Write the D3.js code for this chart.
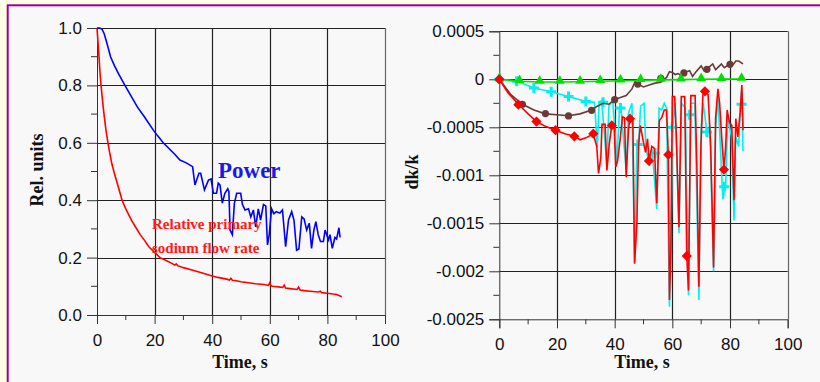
<!DOCTYPE html>
<html>
<head>
<meta charset="utf-8">
<script src="https://cdn.jsdelivr.net/npm/d3@7"></script>
<style>
  html, body { margin: 0; padding: 0; background: #ffffe6; }
  svg { display: block; }
  .tick text { font-family: "Liberation Sans", Arial, sans-serif; font-size: 17px; fill: #111; }
  .ttl { font-family: "Liberation Serif", "Times New Roman", serif; font-weight: bold; }
</style>
</head>
<body>
<script>
// ---- left chart data: relative units vs time ----
let flowT = [0,0.35,0.7,1.0,1.4,1.8,2.2,2.6,3.1,3.8,4.5,5.2,6,7,8,8.7,10,11,12,13.5,15,16.5,18,20,21.9,24,26,27,27.5,28,30,33,36,40,42,45,46,46.5,47,48,50,52,55,58,59.5,60,60.5,61,63,64.5,65,65.5,67,69.5,70,70.5,72,74,76,77,77.5,78,80,82,83,84,85];
let flowV = [1.0,0.95,0.9,0.85,0.8,0.76,0.72,0.685,0.645,0.6,0.56,0.525,0.495,0.46,0.425,0.4,0.37,0.35,0.33,0.305,0.28,0.26,0.238,0.218,0.2,0.19,0.18,0.174,0.178,0.172,0.165,0.157,0.148,0.136,0.131,0.125,0.122,0.128,0.121,0.12,0.116,0.113,0.109,0.106,0.103,0.112,0.101,0.1,0.098,0.096,0.104,0.094,0.092,0.089,0.097,0.087,0.085,0.083,0.081,0.08,0.083,0.078,0.076,0.073,0.072,0.068,0.064];

let powerT = [0,1,1.8,2.5,3.5,4.7,6,7.5,9.7,12,14,16.5,19.5,21,23,25,27,28.8,31,33.2,34,35.4,36,37.3,38.7,39.6,40.4,41.5,42.1,42.7,43.5,44.4,45.4,45.8,46.2,47,47.7,48.5,49.9,50.5,51.4,52.6,53.4,54.3,55.1,56,56.8,57.8,58.6,59.2,59.8,60.6,61.4,62.3,63.5,64.4,65.5,66.5,67.6,68.4,69.3,70.1,71.1,71.9,72.8,73.7,74.5,75.3,76,76.8,77.6,78.6,79.2,80.4,80.9,81.7,82.6,83.2,84,84.4];
let powerV = [1.0,1.0,0.995,0.98,0.945,0.9,0.87,0.84,0.8,0.76,0.725,0.69,0.645,0.625,0.6,0.58,0.56,0.54,0.53,0.517,0.453,0.494,0.494,0.436,0.47,0.474,0.424,0.424,0.459,0.453,0.39,0.424,0.44,0.43,0.296,0.28,0.389,0.424,0.424,0.385,0.366,0.37,0.342,0.366,0.307,0.37,0.331,0.385,0.38,0.244,0.28,0.37,0.353,0.36,0.355,0.366,0.238,0.331,0.36,0.33,0.226,0.23,0.342,0.335,0.296,0.32,0.232,0.296,0.325,0.28,0.256,0.256,0.296,0.262,0.28,0.232,0.27,0.265,0.304,0.27];

let leftXTicks = [0, 20, 40, 60, 80, 100];
let leftYTicks = [0, 0.2, 0.4, 0.6, 0.8, 1.0];
let leftYLabels = ["0.0", "0.2", "0.4", "0.6", "0.8", "1.0"];

// ---- right chart data: dk/k vs time ----
let redT = [0,3,6.6,10,12.9,16,19.5,23,26,28,30,32.6,33.8,34.4,35.2,35.6,36.7,37.3,38.1,39,39.8,40.4,41,41.9,42.7,43.4,44,44.8,45.3,46.3,46.9,47.7,48.3,48.9,50,50.7,51.4,51.9,52.9,53.8,54.6,55.5,56.3,57.2,58,58.6,59,59.5,60,60.8,61.4,62.3,63.1,64.3,65,65.6,66.4,67.9,68.5,69.2,69.9,70.6,71.3,72.4,73.3,74.3,75,75.8,76.4,77.1,77.9,78.5,79,79.8,80.6,81.4,82,82.7,83.5,84.1,84.5];
let redV = [0,-0.00014,-0.00026,-0.00036,-0.00044,-0.00049,-0.00053,-0.00057,-0.00059,-0.00063,-0.00061,-0.00057,-0.0007,-0.00098,-0.00082,-0.00047,-0.00047,-0.00095,-0.00068,-0.00048,-0.00048,-0.00091,-0.00085,-0.00063,-0.00039,-0.0004,-0.00102,-0.00052,-0.00041,-0.00041,-0.00192,-0.0015,-0.00068,-0.00048,-0.00066,-0.00076,-0.00062,-0.00085,-0.0007,-0.00072,-0.00129,-0.00043,-0.0004,-0.00032,-0.00032,-0.00079,-0.0023,-0.0018,-0.00018,-0.00018,-0.0006,-0.00154,-0.00018,-0.00018,-0.00184,-0.0022,-0.00017,-0.00017,-0.0009,-0.00216,-0.0007,-0.00016,-0.00013,-0.00016,-0.0007,-0.00196,-0.0004,-0.0001,-0.00025,-0.0006,-0.00094,-0.0007,-0.00032,-0.00045,-0.00048,-0.00126,-0.00041,-0.0006,-0.00035,-0.00006,-0.00053];
let redMkT = [0,6.6,12.9,19.5,26,32.6,39,45.3,51.9,58.6,65,71.3,77.9];
let redMkV = [0,-0.000264,-0.00044,-0.00053,-0.000594,-0.000566,-0.00048,-0.00041,-0.00085,-0.000785,-0.00184,-0.000125,-0.00094];

let cyanT = [0,6.2,12,18,24,30,33,34,34.6,35.5,36.5,37.3,38,39.3,40,40.8,41.7,42.2,43,44,44.8,46,46.9,47.7,48.3,49,50.2,50.8,52,53,54.6,55.4,56.3,57.2,58,59,59.6,60.2,61,62.3,63.2,64.5,65.6,66.4,67.8,69.2,70,70.7,72,73,74.3,75,75.8,76.5,77.5,78.5,79.2,80.5,81.4,82,83,83.6,84.1,84.5];
let cyanV = [0,-0.00002,-0.00009,-0.00013,-0.00018,-0.00023,-0.00024,-0.0007,-0.00025,-0.00022,-0.0006,-0.0009,-0.00028,-0.00022,-0.0005,-0.00085,-0.0003,-0.00029,-0.0006,-0.00095,-0.00035,-0.00025,-0.0019,-0.0007,-0.00068,-0.00028,-0.00025,-0.0007,-0.0009,-0.00073,-0.00135,-0.0003,-0.00032,-0.00025,-0.0003,-0.00237,-0.0015,-0.00045,-0.00025,-0.0016,-0.00025,-0.0003,-0.00225,-0.00025,-0.00025,-0.0023,-0.0005,-0.00025,-0.00055,-0.0005,-0.002,-0.0005,-0.0002,-0.0006,-0.00125,-0.0011,-0.0004,-0.0006,-0.00147,-0.0006,-0.0007,-0.0003,-0.0001,-0.00075];
let cyanMkT = [0,6,12,18,24,30,36,42,48,54,60,66,72,78,84];
let cyanMkV = [0,-0.00002,-0.00009,-0.00013,-0.00018,-0.00023,-0.00024,-0.0003,-0.00068,-0.00077,-0.0005,-0.00037,-0.00055,-0.00112,-0.00026];

let brownT = [0,4,8,12,16,20,24,28,32,34,36,38,40,42,44,46,47,48,50,52,54,56,58,59,60,61,62,63,64,66,67,68,70,71,72,74,75,76,77,78,80,81,82,83,84.5];
let brownV = [0,-0.00016,-0.00026,-0.00032,-0.00036,-0.00037,-0.00038,-0.00036,-0.00032,-0.00028,-0.00025,-0.00026,-0.00021,-0.00019,-0.00017,-0.0001,-0.00003,-0.00005,-0.00008,-0.00006,-0.00004,-0.00003,0.00002,0.00008,0.00007,0.00005,0.00006,0.00004,0.00007,0.00009,0.00003,0.00007,0.00014,0.00009,0.00011,0.00016,0.0001,0.00013,0.00016,0.00012,0.00016,0.00015,0.00019,0.00019,0.00016];
let brownMkT = [0,8,16,24,32,40,48,56,64,72,80];
let brownMkV = [0,-0.00026,-0.000357,-0.000382,-0.000323,-0.000212,-0.00005,0.00001,0.000066,0.000104,0.000156];

let greenT = [0,7,14,21,28,35,42,49,56,63,70,77,84];
let greenV = [0,-0.00002,-0.000028,-0.000028,-0.000026,-0.00002,-0.000015,-0.00001,-0.000006,-0.000003,0,0.000002,0.000003];

let rightXTicks = [0, 20, 40, 60, 80, 100];
let rightYTicks = [0.0005, 0, -0.0005, -0.001, -0.0015, -0.002, -0.0025];
let rightYLabels = ["0.0005", "0", "-0.0005", "-0.001", "-0.0015", "-0.002", "-0.0025"];

let W = 820, H = 382;
let svg = d3.select("body").append("svg").attr("width", W).attr("height", H);

// frame
svg.append("rect").attr("x", 7.7).attr("y", 5.3).attr("width", 830).attr("height", 400)
  .attr("fill", "#f8f8f8").attr("stroke", "#990099").attr("stroke-width", 2);

function zip(a, b) { return a.map(function(d, i) { return [d, b[i]]; }); }

function drawFrame(x, y, xTicks, yTicks, yLabels, xMinor, yMinor) {
  let g = svg.append("g");
  let x0 = x.range()[0], x1 = x.range()[1];
  let y0 = y.range()[0], y1 = y.range()[1];
  // grid
  xTicks.slice(1).forEach(function(t) {
    g.append("line").attr("x1", Math.round(x(t)) + 0.5).attr("x2", Math.round(x(t)) + 0.5)
      .attr("y1", y1).attr("y2", y0).attr("stroke", t == 100 ? "#666" : "#222").attr("stroke-width", 1.2);
  });
  yTicks.forEach(function(t) {
    if (y(t) >= y0 - 1) return;
    g.append("line").attr("x1", x0).attr("x2", x1)
      .attr("y1", Math.round(y(t)) + 0.5).attr("y2", Math.round(y(t)) + 0.5)
      .attr("stroke", "#222").attr("stroke-width", 1.2);
  });
  // minor ticks
  xMinor.forEach(function(t) {
    g.append("line").attr("x1", x(t)).attr("x2", x(t)).attr("y1", y0).attr("y2", y0 + 5).attr("stroke", "#333");
  });
  yMinor.forEach(function(t) {
    g.append("line").attr("x1", x0 - 6).attr("x2", x0).attr("y1", y(t)).attr("y2", y(t)).attr("stroke", "#333");
  });
  let xAxis = d3.axisBottom(x).tickValues(xTicks).tickSize(9).tickPadding(10).tickFormat(d3.format("d"));
  g.append("g").attr("transform", "translate(0," + y0 + ")").call(xAxis)
    .call(function(s) { s.select(".domain").attr("stroke", "#333"); s.selectAll(".tick line").attr("stroke", "#333"); });
  let yAxis = d3.axisLeft(y).tickValues(yTicks).tickSize(10).tickPadding(5)
    .tickFormat(function(d, i) { return yLabels[i]; });
  g.append("g").attr("transform", "translate(" + x0 + ",0)").call(yAxis)
    .call(function(s) { s.select(".domain").attr("stroke", "#333"); s.selectAll(".tick line").attr("stroke", "#333"); });
  return g;
}

// ---------- left chart ----------
let xL = d3.scaleLinear().domain([0, 100]).range([97, 385]);
let yL = d3.scaleLinear().domain([0, 1]).range([315, 28]);
drawFrame(xL, yL, leftXTicks, leftYTicks, leftYLabels, [10, 30, 50, 70, 90], [0.1, 0.3, 0.5, 0.7, 0.9]);
let lineL = d3.line().x(function(d) { return xL(d[0]); }).y(function(d) { return yL(d[1]); });

svg.append("path").datum(zip(flowT, flowV)).attr("d", lineL)
  .attr("fill", "none").attr("stroke", "#ff0000").attr("stroke-width", 1.6);
svg.append("path").datum(zip(powerT, powerV)).attr("d", lineL)
  .attr("fill", "none").attr("stroke", "#0000ff").attr("stroke-width", 1.6);

svg.append("text").attr("class", "ttl").attr("x", 218).attr("y", 178)
  .attr("font-size", 23).attr("fill", "#1a1ae6").text("Power");
svg.append("text").attr("class", "ttl").attr("x", 152).attr("y", 229)
  .attr("font-size", 15).attr("fill", "#ff1a1a").text("Relative primary");
svg.append("text").attr("class", "ttl").attr("x", 152).attr("y", 253)
  .attr("font-size", 15).attr("fill", "#ff1a1a").text("sodium flow rate");

svg.append("text").attr("class", "ttl").attr("x", 240).attr("y", 368)
  .attr("text-anchor", "middle").attr("font-size", 18).attr("fill", "#111").text("Time, s");
svg.append("text").attr("class", "ttl").attr("transform", "translate(43,170) rotate(-90)")
  .attr("text-anchor", "middle").attr("font-size", 18).attr("fill", "#111").text("Rel. units");

// ---------- right chart ----------
let xR = d3.scaleLinear().domain([0, 100]).range([499.3, 787.7]);
let yR = d3.scaleLinear().domain([-0.0025, 0.0005]).range([319.3, 31.3]);
drawFrame(xR, yR, rightXTicks, rightYTicks, rightYLabels, [10, 30, 50, 70, 90],
  [0.00025, -0.00025, -0.00075, -0.00125, -0.00175, -0.00225]);
let lineR = d3.line().x(function(d) { return xR(d[0]); }).y(function(d) { return yR(d[1]); });

// cyan + crosses
svg.append("path").datum(zip(cyanT, cyanV)).attr("d", lineR)
  .attr("fill", "none").attr("stroke", "#00f0f0").attr("stroke-width", 1.6);
svg.selectAll(".cross").data(zip(cyanMkT, cyanMkV)).enter().append("path")
  .attr("class", "cross")
  .attr("transform", function(d) { return "translate(" + xR(d[0]) + "," + yR(d[1]) + ")"; })
  .attr("d", "M-5,0H5M0,-5V5").attr("stroke", "#00f0f0").attr("stroke-width", 3);

// brown + circles
svg.append("path").datum(zip(brownT, brownV)).attr("d", lineR)
  .attr("fill", "none").attr("stroke", "#6b3a36").attr("stroke-width", 1.6);
svg.selectAll(".dot").data(zip(brownMkT, brownMkV)).enter().append("circle")
  .attr("class", "dot").attr("cx", function(d) { return xR(d[0]); }).attr("cy", function(d) { return yR(d[1]); })
  .attr("r", 3.6).attr("fill", "#6b3a36");

// green + triangles
svg.append("path").datum(zip(greenT, greenV)).attr("d", lineR)
  .attr("fill", "none").attr("stroke", "#00e000").attr("stroke-width", 1.6);
svg.selectAll(".tri").data(zip(greenT, greenV)).enter().append("path")
  .attr("class", "tri")
  .attr("transform", function(d) { return "translate(" + xR(d[0]) + "," + (yR(d[1]) - 1) + ")"; })
  .attr("d", d3.symbol(d3.symbolTriangle, 42)).attr("fill", "#00e000");

// red + diamonds
svg.append("path").datum(zip(redT, redV)).attr("d", lineR)
  .attr("fill", "none").attr("stroke", "#ff0000").attr("stroke-width", 1.6);
svg.selectAll(".dia").data(zip(redMkT, redMkV)).enter().append("path")
  .attr("class", "dia")
  .attr("transform", function(d) { return "translate(" + xR(d[0]) + "," + yR(d[1]) + ") rotate(45)"; })
  .attr("d", d3.symbol(d3.symbolSquare, 52)).attr("fill", "#ff0000");

svg.append("text").attr("class", "ttl").attr("x", 642).attr("y", 368)
  .attr("text-anchor", "middle").attr("font-size", 18).attr("fill", "#111").text("Time, s");
svg.append("text").attr("class", "ttl").attr("transform", "translate(418,172) rotate(-90)")
  .attr("text-anchor", "middle").attr("font-size", 18).attr("fill", "#111").text("dk/k");
</script>
</body>
</html>
